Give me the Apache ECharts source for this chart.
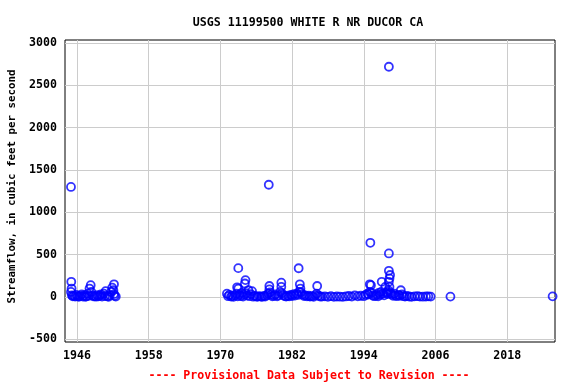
<!DOCTYPE html>
<html>
<head>
<meta charset="utf-8">
<script src="https://cdn.jsdelivr.net/npm/echarts@6/dist/echarts.min.js"></script>
<style>html,body{margin:0;padding:0;background:#fff}#c{width:576px;height:384px}</style>
</head>
<body>
<div id="c"></div>
<script>
const titleText = 'USGS 11199500 WHITE R NR DUCOR CA';
const yAxisName = 'Streamflow, in cubic feet per second';
const footerText = '---- Provisional Data Subject to Revision ----';
const xTicks = [1946, 1958, 1970, 1982, 1994, 2006, 2018];
const yTicks = [-500, 0, 500, 1000, 1500, 2000, 2500, 3000];

// [decimal year, streamflow cfs]
const early = [
  [1945.0,1300],[1945.05,180],[1945.1,100],[1945.0,60],[1945.15,20],[1945.3,8],[1945.5,15],[1945.7,5],
  [1945.9,25],[1946.1,10],[1946.3,3],[1946.5,12],[1946.8,30],[1947.0,6],[1947.2,18],[1947.4,2],
  [1947.6,9],[1947.8,40],[1948.0,14],[1948.1,100],[1948.3,140],[1948.4,60],[1948.6,20],[1948.8,7],
  [1949.0,11],[1949.2,4],[1949.4,22],[1949.6,8],[1949.8,16],[1950.0,30],[1950.2,5],[1950.5,40],
  [1950.7,12],[1950.8,70],[1951.1,9],[1951.3,3],[1951.5,20],[1951.7,60],[1951.9,110],[1952.2,150],
  [1952.1,80],[1952.2,35],[1952.3,14],[1952.5,6]
];
const middle = [
  [1971.3,10],[1971.1,40],[1971.5,25],[1971.8,5],[1972.0,15],[1972.2,3],[1972.5,20],[1972.7,40],
  [1972.8,115],[1972.9,8],[1973.0,341],[1973.0,100],[1973.2,30],[1973.4,12],[1973.6,50],[1973.8,6],
  [1974.0,25],[1974.1,160],[1974.2,200],[1974.3,45],[1974.5,18],[1974.7,80],[1974.9,10],[1975.1,35],
  [1975.3,70],[1975.5,4],[1975.7,14],[1976.0,7],[1976.2,2],[1976.5,10],[1976.8,5],[1977.0,3],
  [1977.3,12],[1977.5,6],[1977.8,20],[1978.0,40],[1978.1,1326],[1978.2,130],[1978.2,90],[1978.3,55],
  [1978.5,25],[1978.7,8],[1979.0,15],[1979.2,30],[1979.5,9],[1979.7,20],[1980.0,60],[1980.2,170],
  [1980.2,120],[1980.3,45],[1980.5,20],[1980.8,10],[1981.0,5],[1981.3,15],[1981.5,8],[1981.8,25],
  [1982.0,12],[1982.3,35],[1982.5,18],[1982.8,40],[1983.0,25],[1983.1,340],[1983.3,150],[1983.4,100],
  [1983.2,60],[1983.5,55],[1983.7,30],[1984.0,12],[1984.2,20],[1984.5,8],[1984.8,15],[1985.0,5],
  [1985.3,10],[1985.6,3],[1985.9,20],[1986.1,40],[1986.2,130],[1986.4,15],[1986.7,6],
  [1987.0,5],[1987.5,8],[1988.0,3],[1988.5,10],[1989.0,2],[1989.5,6],[1990.0,4],[1990.5,2],
  [1991.0,7],[1991.5,12],[1992.0,5],[1992.5,20],[1993.0,8],[1993.5,15],[1994.0,10],[1994.3,25],
  [1994.6,40],[1994.8,30],[1995.0,150],[1995.1,640],[1995.2,140],[1995.0,60],[1995.3,50],[1995.5,20],
  [1995.7,10],[1996.0,15],[1996.2,30],[1996.4,8],[1996.5,50],[1996.7,25],[1996.9,60],[1997.0,180],
  [1997.2,40],[1997.4,20],[1997.6,120],[1997.8,50],[1998.0,35],[1998.0,60],[1998.1,80],[1998.2,2719],
  [1998.2,515],[1998.2,310],[1998.4,260],[1998.3,220],[1998.2,180],[1998.3,120],[1998.5,45],[1998.7,30],
  [1998.9,15],[1999.1,40],[1999.3,20],[1999.5,10],[1999.8,25],[2000.0,15],[2000.2,80],[2000.4,30],
  [2000.6,10],[2000.9,5],[2001.2,12],[2001.6,6],[2002.0,3],[2002.5,8],[2003.0,10],[2003.4,5],
  [2003.9,4],[2004.4,6],[2004.8,8],[2005.2,5]
];
const late = [[2008.5,5],[2025.6,8]];

const FONT = 'DejaVu Sans Mono';
const chart = echarts.init(document.getElementById('c'), null, {renderer: 'canvas'});
chart.setOption({
  animation: false,
  backgroundColor: '#fff',
  title: [
    {text: titleText, left: 303, top: 12, textAlign: 'center',
     textStyle: {fontFamily: FONT, fontWeight: 'bold', fontSize: 11.6, color: '#000'}},
    {text: footerText, left: 304, top: 365, textAlign: 'center',
     textStyle: {fontFamily: FONT, fontWeight: 'bold', fontSize: 11.6, color: '#ff0000'}}
  ],
  grid: {left: 65, right: 21, top: 40, bottom: 42, show: true, borderColor: '#000', borderWidth: 1,
         containLabel: false, outerBoundsMode: 'none'},
  xAxis: {
    type: 'value', min: 1944, max: 2026,
    axisLine: {show: false}, axisTick: {show: false, customValues: xTicks},
    axisLabel: {customValues: xTicks, margin: 8, formatter: v => String(v), fontFamily: FONT, fontWeight: 'bold', fontSize: 11.6, color: '#000'},
    splitLine: {show: true, lineStyle: {color: '#cccccc', width: 1}}
  },
  yAxis: {
    type: 'value', min: -531, max: 3035,
    name: yAxisName, nameLocation: 'middle', nameGap: 44, nameRotate: 90,
    nameTextStyle: {fontFamily: FONT, fontWeight: 'bold', fontSize: 10.8, color: '#000', padding: [0, 0, 0, 9]},
    axisLine: {show: false}, axisTick: {show: false, customValues: yTicks},
    axisLabel: {customValues: yTicks, margin: 8, formatter: v => String(v), fontFamily: FONT, fontWeight: 'bold', fontSize: 11.6, color: '#000'},
    splitLine: {show: true, lineStyle: {color: '#cccccc', width: 1}}
  },
  series: [early, middle, late].map(d => ({
    type: 'scatter', data: d, symbol: 'circle', symbolSize: 8,
    itemStyle: {color: 'rgba(0,0,0,0)', borderColor: '#0000ff', borderWidth: 1.8},
    emphasis: {disabled: true}
  }))
});
</script>
</body>
</html>
